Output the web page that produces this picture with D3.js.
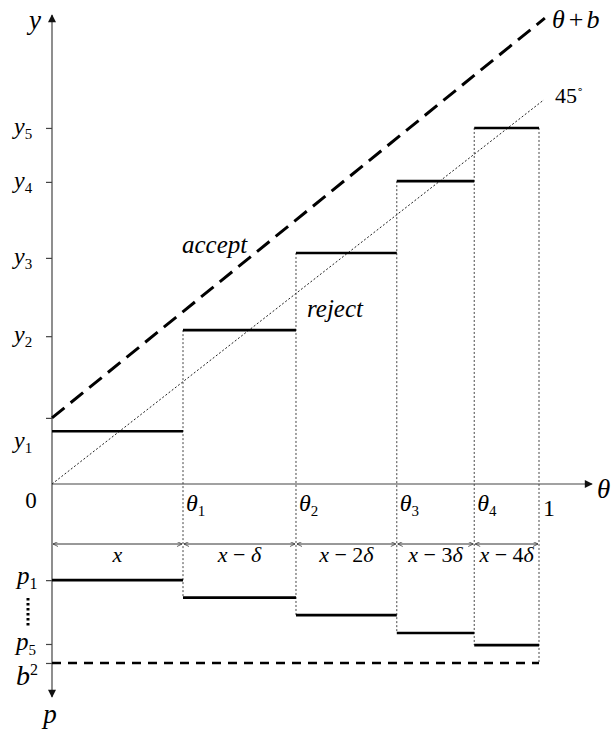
<!DOCTYPE html>
<meta charset="utf-8">
<script src="https://d3js.org/d3.v7.min.js"></script>
<style>
  body { margin: 0; background: #fff; }
</style>
<div id="chart"></div>
<script>
// values (theta on [0,1], y up, p down)
var thetaBreaks = [0, 0.269, 0.501, 0.708, 0.867, 1];
var yValues = [0.139, 0.405, 0.608, 0.797, 0.937];
var pValues = [0.253, 0.299, 0.345, 0.392, 0.424];
var b2Value = 0.471;
var yTickValues = [0.174, 0.389, 0.595, 0.795, 0.937];
var yTickLabels = ["y1", "y2", "y3", "y4", "y5"];
var yLabelPos = [0.11, 0.389, 0.595, 0.795, 0.937];
var pTickValues = [0.253, 0.421, 0.471];
var segmentLabels = ["x", "x − δ", "x − 2δ", "x − 3δ", "x − 4δ"];
var diagonal = [[0, 0], [1.010, 1.011]];
var acceptLine = [[0, 0.174], [1.012, 1.226]];

var FONT = "'Liberation Serif', monospace";
var W = 615, H = 736;
var svg = d3.select("#chart").append("svg")
    .attr("width", W)
    .attr("height", H)
    .style("display", "block");

// scales
var x = d3.scaleLinear().domain([0, 1]).range([52, 539]);
var yUp = d3.scaleLinear().domain([0, 1]).range([484, 104]);
var pDown = d3.scaleLinear().domain([0, 1]).range([484, 864]);

// arrow markers
var defs = svg.append("defs");
defs.append("marker")
    .attr("id", "axisArrow")
    .attr("markerUnits", "userSpaceOnUse")
    .attr("viewBox", "0 0 10 10")
    .attr("refX", 9).attr("refY", 5)
    .attr("markerWidth", 10).attr("markerHeight", 8)
    .attr("orient", "auto-start-reverse")
  .append("path")
    .attr("d", "M0,0 L10,5 L0,10 Z")
    .attr("fill", "#111");
defs.append("marker")
    .attr("id", "smallArrow")
    .attr("markerUnits", "userSpaceOnUse")
    .attr("viewBox", "0 0 10 10")
    .attr("refX", 10).attr("refY", 5)
    .attr("markerWidth", 6).attr("markerHeight", 5)
    .attr("orient", "auto-start-reverse")
  .append("path")
    .attr("d", "M0,0 L10,5 L0,10")
    .attr("fill", "none")
    .attr("stroke", "#333")
    .attr("stroke-width", 1.5);

// vertical dotted guides
for (var i = 1; i < thetaBreaks.length; i++) {
  var guideTop = i < yValues.length ? yValues[i] : yValues[yValues.length - 1];
  var guideBottom = i < pValues.length ? pValues[i] : b2Value;
  svg.append("line")
      .attr("x1", x(thetaBreaks[i])).attr("x2", x(thetaBreaks[i]))
      .attr("y1", yUp(guideTop)).attr("y2", pDown(guideBottom))
      .attr("stroke", "#444")
      .attr("stroke-width", 1)
      .attr("stroke-dasharray", "2,2");
}

// axes
svg.append("line")
    .attr("x1", x(0)).attr("x2", x(0))
    .attr("y1", 697).attr("y2", 15)
    .attr("stroke", "#444").attr("stroke-width", 1.2)
    .attr("marker-start", "url(#axisArrow)")
    .attr("marker-end", "url(#axisArrow)");
svg.append("line")
    .attr("x1", x(0)).attr("x2", 592)
    .attr("y1", yUp(0)).attr("y2", yUp(0))
    .attr("stroke", "#444").attr("stroke-width", 1.2)
    .attr("marker-end", "url(#axisArrow)");

var yAxis = svg.append("g")
    .attr("transform", "translate(" + x(0) + ",0)")
    .call(d3.axisLeft(yUp).tickValues(yTickValues).tickSize(6).tickFormat(""));
yAxis.select(".domain").remove();
var pAxis = svg.append("g")
    .attr("transform", "translate(" + x(0) + ",0)")
    .call(d3.axisLeft(pDown).tickValues(pTickValues).tickSize(6).tickFormat(""));
pAxis.select(".domain").remove();
svg.selectAll(".tick line").attr("stroke", "#444").attr("stroke-width", 1.2);

// 45 degree line and theta + b line
var line = d3.line()
    .x(function(d) { return x(d[0]); })
    .y(function(d) { return yUp(d[1]); });
svg.append("path")
    .datum(diagonal)
    .attr("d", line)
    .attr("fill", "none")
    .attr("stroke", "#222")
    .attr("stroke-width", 1)
    .attr("stroke-dasharray", "2,2");
svg.append("path")
    .datum(acceptLine)
    .attr("d", line)
    .attr("fill", "none")
    .attr("stroke", "#000")
    .attr("stroke-width", 3)
    .attr("stroke-dasharray", "16,8");

// upper steps
svg.selectAll(".ystep")
  .data(yValues)
  .enter()
  .append("line")
    .attr("x1", function(d, i) { return x(thetaBreaks[i]); })
    .attr("x2", function(d, i) { return x(thetaBreaks[i + 1]); })
    .attr("y1", function(d) { return yUp(d); })
    .attr("y2", function(d) { return yUp(d); })
    .attr("stroke", "#000")
    .attr("stroke-width", 2.6);

// lower steps
svg.selectAll(".pstep")
  .data(pValues)
  .enter()
  .append("line")
    .attr("x1", function(d, i) { return x(thetaBreaks[i]); })
    .attr("x2", function(d, i) { return x(thetaBreaks[i + 1]); })
    .attr("y1", function(d) { return pDown(d); })
    .attr("y2", function(d) { return pDown(d); })
    .attr("stroke", "#000")
    .attr("stroke-width", 2.6);

// b^2 dashed line
svg.append("line")
    .attr("x1", x(0)).attr("x2", x(1))
    .attr("y1", pDown(b2Value)).attr("y2", pDown(b2Value))
    .attr("stroke", "#000")
    .attr("stroke-width", 2.6)
    .attr("stroke-dasharray", "9,7");

// interval arrows
var arrowY = 544;
for (var i = 0; i < segmentLabels.length; i++) {
  svg.append("line")
      .attr("x1", x(thetaBreaks[i]) + 1).attr("x2", x(thetaBreaks[i + 1]) - 1)
      .attr("y1", arrowY).attr("y2", arrowY)
      .attr("stroke", "#333").attr("stroke-width", 1)
      .attr("marker-start", "url(#smallArrow)")
      .attr("marker-end", "url(#smallArrow)");
  var lbl = svg.append("text")
      .attr("font-family", FONT)
      .attr("x", (x(thetaBreaks[i]) + x(thetaBreaks[i + 1])) / 2)
      .attr("y", 562)
      .attr("text-anchor", "middle")
      .style("font-size", "22px");
  // italic letters, upright operators and digits
  segmentLabels[i].split("").forEach(function(ch) {
    lbl.append("tspan")
        .style("font-style", /[xδ]/.test(ch) ? "italic" : "normal")
        .text(ch);
  });
}

// helper for a symbol with a subscript / superscript
function symbol(px, py, main, sub, opts) {
  opts = opts || {};
  var t = svg.append("text")
      .attr("font-family", FONT)
      .attr("x", px).attr("y", py)
      .attr("text-anchor", opts.anchor || "start")
      .style("font-size", (opts.size || 24) + "px");
  t.append("tspan").style("font-style", "italic").text(main);
  if (sub) {
    t.append("tspan")
        .attr("dy", opts.sup ? -10 : 5)
        .style("font-size", (opts.subSize || 15) + "px")
        .text(sub);
  }
  return t;
}

function plain(px, py, str, size, italic) {
  return svg.append("text")
      .attr("font-family", FONT)
      .attr("x", px).attr("y", py)
      .style("font-size", size + "px")
      .style("font-style", italic ? "italic" : "normal")
      .text(str);
}

// y labels
yTickLabels.forEach(function(l, i) {
  symbol(14, yUp(yLabelPos[i]) + 6, "y", l.slice(1));
});

// theta labels
for (var i = 1; i < 5; i++) {
  symbol(x(thetaBreaks[i]) + 3, 511, "θ", String(i));
}
plain(31, 508, "0", 23).attr("text-anchor", "middle");
plain(549, 516, "1", 24).attr("text-anchor", "middle");

// axis titles
symbol(35, 29, "y", null, {anchor: "middle", size: 27});
symbol(597, 498, "θ", null, {size: 27});
symbol(50, 723, "p", null, {anchor: "middle", size: 27});

// p labels
symbol(17, 584, "p", "1", {size: 25, subSize: 16});
symbol(16, 650, "p", "5", {size: 25, subSize: 15});
symbol(16, 685, "b", "2", {size: 28, subSize: 16, sup: true});
svg.append("line")
    .attr("x1", 28).attr("x2", 28)
    .attr("y1", 598).attr("y2", 626)
    .attr("stroke", "#000")
    .attr("stroke-width", 3)
    .attr("stroke-dasharray", "2.5,2.5");

// region texts
plain(182, 253, "accept", 25, true);
plain(307, 317, "reject", 25, true);

// line labels
var tb = plain(552, 28, "", 26);
tb.append("tspan").style("font-style", "italic").text("θ");
tb.append("tspan").attr("dx", 4).text("+");
tb.append("tspan").attr("dx", 3).style("font-style", "italic").text("b");
var deg = plain(555, 103, "", 22);
deg.append("tspan").text("45");
deg.append("tspan").attr("dy", -10).style("font-size", "11px").text("∘");
</script>
